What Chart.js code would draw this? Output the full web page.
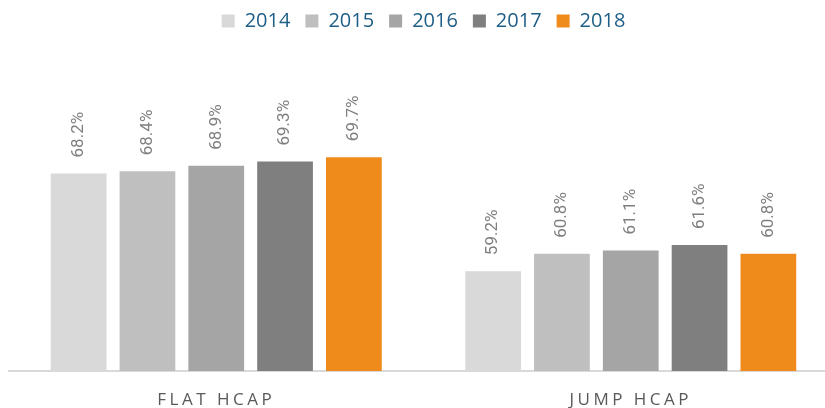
<!DOCTYPE html>
<html>
<head>
<meta charset="utf-8">
<script src="https://cdn.jsdelivr.net/npm/chart.js@4"></script>
<style>
  html, body { margin: 0; padding: 0; background: #fff; overflow: hidden; }
  #wrap { position: relative; width: 838px; height: 408px; }
</style>
</head>
<body>
<div id="wrap"><canvas id="chartHcap"></canvas></div>
<script>
// Data
var categories = ['FLAT HCAP', 'JUMP HCAP'];
var years = ['2014', '2015', '2016', '2017', '2018'];
var values2014 = [68.2, 59.2];
var values2015 = [68.4, 60.8];
var values2016 = [68.9, 61.1];
var values2017 = [69.3, 61.6];
var values2018 = [69.7, 60.8];
var colours = ['#d9d9d9', '#bfbfbf', '#a5a5a5', '#7f7f7f', '#ef8b1a'];

var allValues = [values2014, values2015, values2016, values2017, values2018];
var datasets = years.map(function (y, i) {
    return {
        label: y,
        data: allValues[i],
        backgroundColor: colours[i],
        borderWidth: 0,
        barPercentage: 0.81,
        categoryPercentage: 0.83
    };
});

// value labels, rotated, above each bar
var barLabels = {
    id: 'barLabels',
    afterDatasetsDraw: function (chart) {
        var ctx = chart.ctx;
        ctx.save();
        ctx.font = '17px Roboto';
        ctx.fillStyle = '#7f7f7f';
        ctx.textAlign = 'left';
        ctx.textBaseline = 'middle';
        chart.data.datasets.forEach(function (ds, i) {
            chart.getDatasetMeta(i).data.forEach(function (bar, j) {
                ctx.save();
                ctx.translate(bar.x, bar.y - 16);
                ctx.rotate(-Math.PI / 2);
                ctx.fillText(ds.data[j].toFixed(1) + '%', 0, 0);
                ctx.restore();
            });
        });
        ctx.restore();
    }
};

// spaced-out category labels
var spacedTicks = {
    id: 'spacedTicks',
    beforeDraw: function (chart) {
        var sx = chart.scales.x;
        if (sx._spaced) return;
        var orig = sx.drawLabels;
        sx.drawLabels = function (area) {
            chart.ctx.save();
            chart.ctx.letterSpacing = '3.5px';
            orig.call(this, area);
            chart.ctx.restore();
        };
        sx._spaced = true;
    }
};

var ctx = document.getElementById('chartHcap').getContext('2d');
var hcapChart = new Chart(ctx, {
    type: 'bar',
    data: { labels: categories, datasets: datasets },
    options: {
        responsive: true,
        maintainAspectRatio: false,
        animation: false,
        layout: { padding: { left: 9, right: 0, top: -4, bottom: 0 } },
        plugins: {
            legend: {
                position: 'top',
                labels: {
                    boxWidth: 13,
                    boxHeight: 13,
                    padding: 15,
                    color: '#1f5e87',
                    font: { family: 'Open Sans', size: 20 }
                }
            },
            tooltip: { enabled: false }
        },
        scales: {
            x: {
                grid: { display: false },
                border: { display: true, color: '#d9d9d9', width: 2 },
                ticks: {
                    color: '#595959',
                    padding: 11,
                    font: { family: 'Open Sans', size: 17 }
                },
                afterFit: function (scale) { scale.height = 37; }
            },
            y: {
                display: false,
                min: 50,
                max: 80.4
            }
        }
    },
    plugins: [barLabels, spacedTicks]
});
</script>
</body>
</html>
